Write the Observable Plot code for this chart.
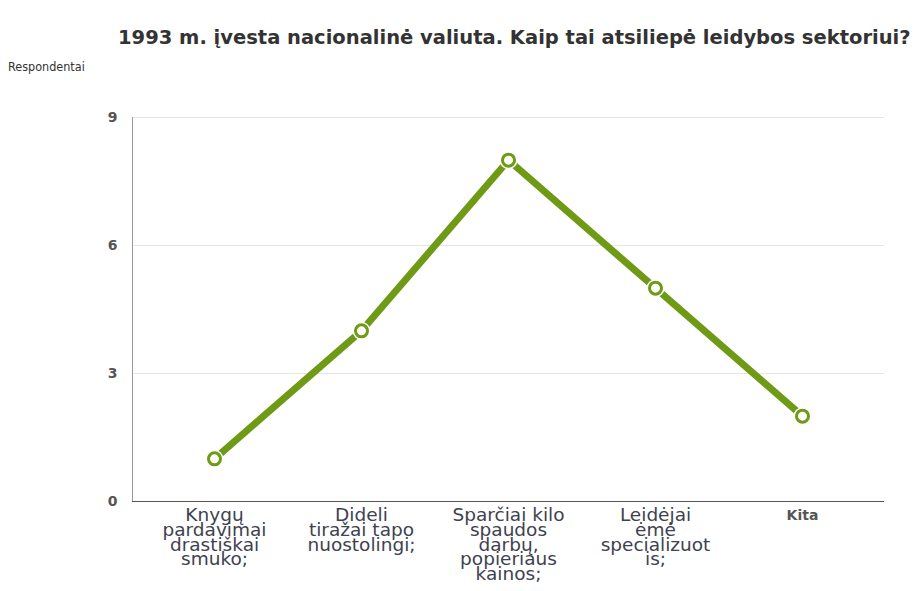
<!DOCTYPE html>
<html>
<head>
<meta charset="utf-8">
<script src="https://cdn.jsdelivr.net/npm/d3@7"></script>
<script src="https://cdn.jsdelivr.net/npm/@observablehq/plot@0.6"></script>
<style>
  html, body { margin: 0; padding: 0; background: #fff; }
  #wrap { position: relative; width: 916px; height: 591px; overflow: hidden; background: #fff; }
  #chart { position: absolute; left: 0; top: 40px; z-index: 1; }
  #title { position: absolute; left: 118px; top: 26px; z-index: 2; font-family: "DejaVu Sans", sans-serif; font-weight: bold; font-size: 19.5px; color: #333; white-space: nowrap; }
  #ylab { position: absolute; left: 8px; top: 59px; z-index: 2; font-family: "DejaVu Sans Condensed", "DejaVu Sans", sans-serif; font-size: 12.5px; color: #333; }
</style>
</head>
<body>
<div id="wrap">
  <div id="chart"></div>
  <div id="title">1993 m. įvesta nacionalinė valiuta. Kaip tai atsiliepė leidybos sektoriui?</div>
  <div id="ylab">Respondentai</div>
</div>
<script>
const categories = [
  "Knygų\npardavimai\ndrastiškai\nsmuko;",
  "Dideli\ntiražai tapo\nnuostolingi;",
  "Sparčiai kilo\nspaudos\ndarbų,\npopieriaus\nkainos;",
  "Leidėjai\nėmė\nspecializuot\nis;",
  "Kita"
];
const values = [1, 4, 8, 5, 2];
const yTicks = [0, 3, 6, 9];

const data = categories.map((c, i) => ({category: c, value: values[i]}));
const green = "#6e9a16";
const lastCat = categories[categories.length - 1];

const chart = Plot.plot({
  width: 916,
  height: 551,
  marginLeft: 132,
  marginRight: 32,
  marginTop: 77,
  marginBottom: 90,
  style: {fontFamily: "'DejaVu Sans', sans-serif", background: "#fff"},
  x: {type: "point", domain: categories, padding: 0.55, label: null},
  y: {domain: [0, 9], label: null},
  marks: [
    Plot.gridY(yTicks.filter(d => d > 0), {stroke: "#e6e6e6", strokeOpacity: 1}),
    Plot.axisY(yTicks, {tickSize: 0, tickPadding: 15, fontSize: 14, fontWeight: "bold", fill: "#555", label: null}),
    Plot.axisX(categories.slice(0, -1), {tickSize: 0, tickPadding: 9, fontSize: 18.5, fill: "#3e4250", lineHeight: 0.8, label: null}),
    Plot.axisX([lastCat], {tickSize: 0, tickPadding: 9, fontSize: 14, fontWeight: "bold", fill: "#555", label: null}),
    Plot.frame({anchor: "left", stroke: "#999"}),
    Plot.ruleY([0], {stroke: "#555", strokeWidth: 1.2}),
    Plot.line(data, {x: "category", y: "value", stroke: green, strokeWidth: 7, strokeLinejoin: "miter"}),
    Plot.dot(data, {x: "category", y: "value", r: 7.5, fill: "#fff", stroke: "#fff", strokeWidth: 3}),
    Plot.dot(data, {x: "category", y: "value", r: 6, fill: "#fff", stroke: green, strokeWidth: 3})
  ]
});
document.getElementById("chart").appendChild(chart);
</script>
</body>
</html>
